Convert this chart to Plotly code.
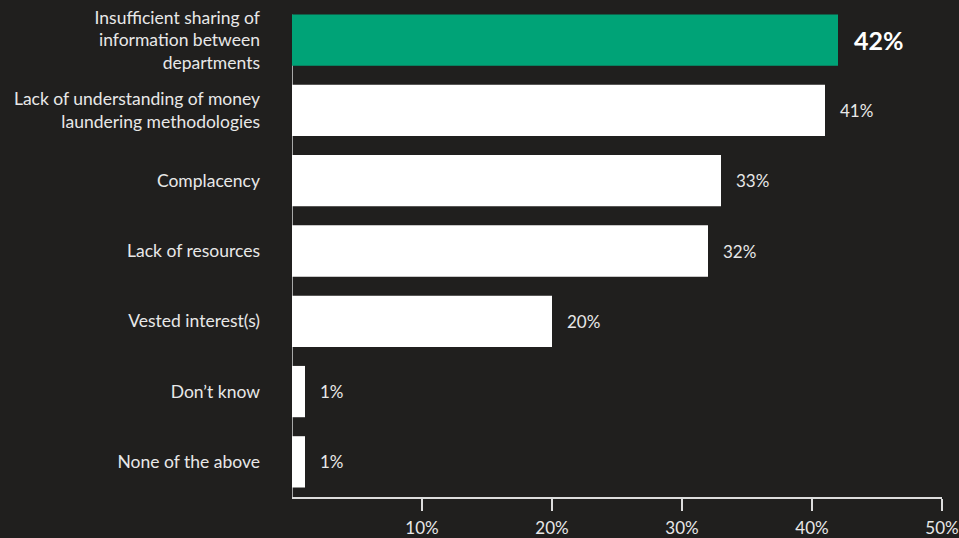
import plotly.graph_objects as go

categories = [
    "Insufficient sharing of<br>information between<br>departments",
    "Lack of understanding of money<br>laundering methodologies",
    "Complacency",
    "Lack of resources",
    "Vested interest(s)",
    "Don’t know",
    "None of the above",
]
values = [42, 41, 33, 32, 20, 1, 1]
tick_vals = [10, 20, 30, 40, 50]
tick_text = ["10%", "20%", "30%", "40%", "50%"]

BG = "#201f1e"
GREEN = "#00a377"
TEXT = "#e8e8e8"
FONT = "Lato, 'Noto Sans', sans-serif"

bar_colors = [GREEN] + ["#ffffff"] * (len(values) - 1)

fig = go.Figure(
    go.Bar(
        x=values,
        y=categories,
        orientation="h",
        marker=dict(color=bar_colors, line=dict(width=0)),
        width=0.73,
        hoverinfo="skip",
    )
)

# value labels to the right of each bar; the highlighted bar gets a bold, larger label
for i, (cat, v) in enumerate(zip(categories, values)):
    first = i == 0
    fig.add_annotation(
        x=v, y=cat, xref="x", yref="y",
        text=f"<b>{v}%</b>" if first else f"{v}%",
        showarrow=False, xanchor="left", yanchor="middle",
        xshift=14 if first else 13,
        font=dict(family=FONT, size=25 if first else 17, color="#ffffff" if first else TEXT),
    )

# vertical baseline from the top of the first bar down to the x axis
fig.add_shape(
    type="line", xref="x", yref="paper",
    x0=0, x1=0, y0=0, y1=0.98,
    line=dict(color="#a8a8a8", width=2),
    layer="below",
)

fig.update_layout(
    width=959, height=538,
    paper_bgcolor=BG, plot_bgcolor=BG,
    margin=dict(l=292, r=17, t=5, b=41),
    showlegend=False,
    font=dict(family=FONT, color=TEXT),
    xaxis=dict(
        range=[0, 50],
        tickvals=tick_vals, ticktext=tick_text,
        showgrid=False, zeroline=False,
        showline=True, linecolor="#dddddd", linewidth=2,
        ticks="outside", ticklen=12, tickwidth=2, tickcolor="#dddddd",
        ticklabelstandoff=3,
        tickfont=dict(family=FONT, size=17, color=TEXT),
        automargin=False,
        fixedrange=True,
    ),
    yaxis=dict(
        autorange="reversed",
        showgrid=False, zeroline=False, showline=False,
        ticks="", ticklabelstandoff=31,
        tickfont=dict(family=FONT, size=17.5, color=TEXT),
        automargin=False,
        fixedrange=True,
    ),
)

fig.write_html("out.html")
